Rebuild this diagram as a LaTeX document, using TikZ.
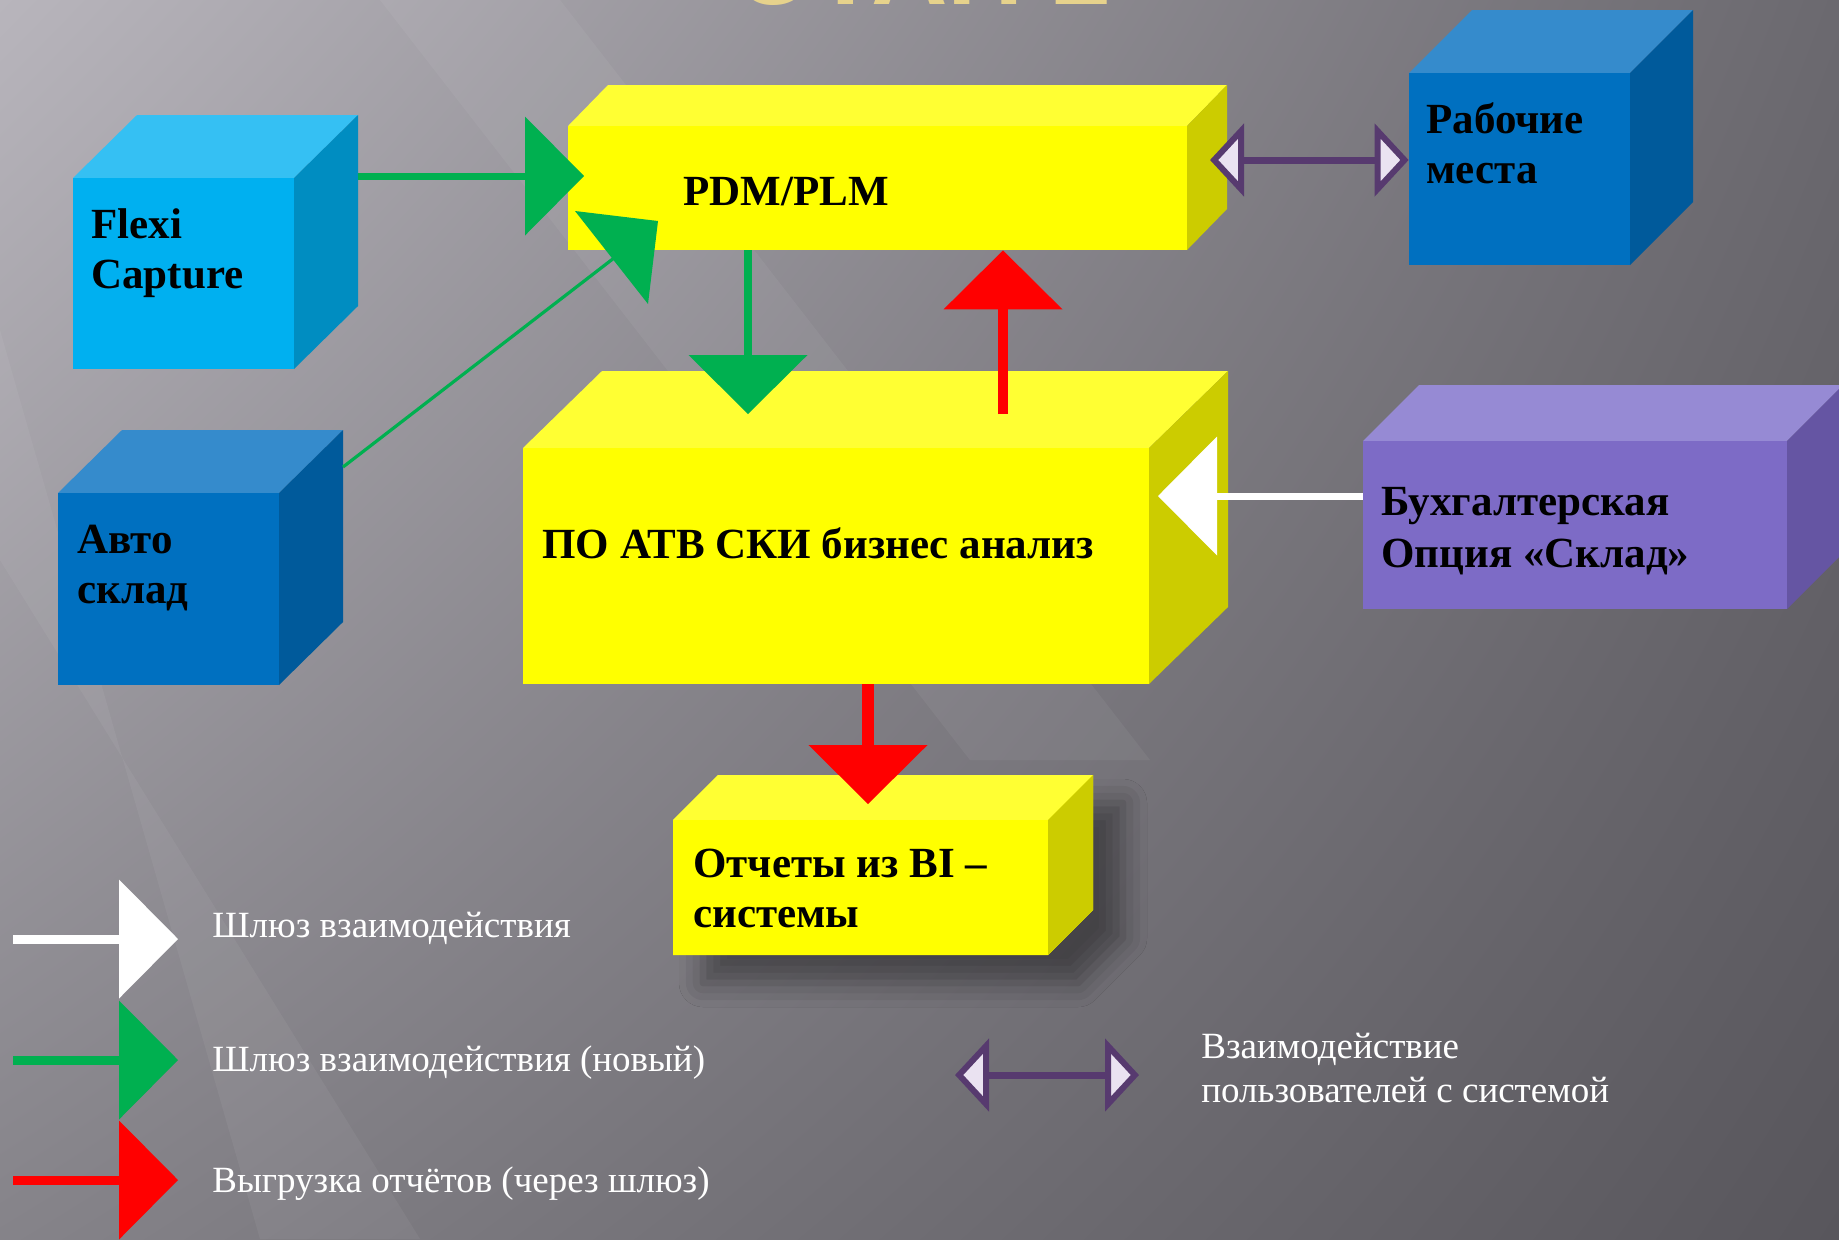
\documentclass[tikz,border=0pt]{standalone}
\usepackage{fontspec}
\setmainfont{Liberation Serif}
\newfontfamily\titlefont{Liberation Sans}
\usetikzlibrary{arrows.meta,shadows.blur,fit,calc,shadings}
\definecolor{cyF}{HTML}{00B0F0}\definecolor{cyT}{HTML}{35C0F3}\definecolor{cyS}{HTML}{008DC1}
\definecolor{blF}{HTML}{0070C0}\definecolor{blT}{HTML}{358BCC}\definecolor{blS}{HTML}{005A9B}
\definecolor{yeF}{HTML}{FFFF00}\definecolor{yeT}{HTML}{FFFF33}\definecolor{yeS}{HTML}{CCCC00}
\definecolor{puF}{HTML}{7D6BC6}\definecolor{puT}{HTML}{968AD4}\definecolor{puS}{HTML}{6555A3}
\definecolor{grA}{HTML}{00B050}\definecolor{rdA}{HTML}{FF0000}
\definecolor{pvD}{HTML}{573A6F}\definecolor{pvL}{HTML}{EAE2F1}
\definecolor{goldT}{HTML}{E6D28C}
\definecolor{bgUL}{HTML}{B8B5BC}\definecolor{bgUR}{HTML}{6B696F}
\definecolor{bgLL}{HTML}{858389}\definecolor{bgLR}{HTML}{58565C}
% #1 name, #2 x1, #3 y1, #4 x2, #5 y2, #6 dx, #7 dy, #8 colour prefix
\newcommand\mycube[8]{%
  \fill[#8T] (#2,#3) -- (#2+#6,#3-#7) -- (#4+#6,#3-#7) -- (#4,#3) -- cycle;
  \fill[#8S] (#4,#3) -- (#4+#6,#3-#7) -- (#4+#6,#5-#7) -- (#4,#5) -- cycle;
  \fill[#8F] (#2,#3) rectangle (#4,#5);
  \node[fit={(#2,#3) (#4,#5)}, inner sep=0pt] (#1) {};
}
\begin{document}
\begin{tikzpicture}[x=0.5pt,y=-0.5pt,
  lbl/.style={anchor=base west, inner sep=0pt, text=black,
    font=\bfseries\fontsize{21.5pt}{25pt}\selectfont},
  leg/.style={anchor=base west, inner sep=0pt, text=white,
    font=\fontsize{18.5pt}{22pt}\selectfont},
  bigtip/.style={-{Triangle[width=59.5pt,length=29.5pt,line width=0pt]}},
  pline/.style={draw=pvD, line width=3.5pt,
    {Triangle[width=36pt,length=17pt,line width=3pt,fill=pvL]}-{Triangle[width=36pt,length=17pt,line width=3pt,fill=pvL]}}
]
\useasboundingbox (0,0) rectangle (1839,1239);
% background
\shade[upper left=bgUL, upper right=bgUR, lower left=bgLL, lower right=bgLR]
  (0,0) rectangle (1839,1239);
\fill[white, opacity=0.05] (380,0) -- (560,0) -- (1150,760) -- (970,760) -- cycle;
\fill[white, opacity=0.05] (0,330) -- (0,560) -- (420,1239) -- (260,1239) -- cycle;
% title (cut off at the top)
\begin{scope}
\clip (0,0) rectangle (1839,1239);
\node[anchor=base, inner sep=0pt, text=goldT,
  font=\titlefont\bfseries\fontsize{53pt}{60pt}\selectfont] (title) at (925,4) {ЭТАП 2};
\end{scope}
% boxes
\mycube{flexi}{73}{178}{294}{369}{64}{63}{cy}
\mycube{pdm}{568}{126}{1187}{250}{40}{41}{ye}
\mycube{rab}{1409}{73}{1630}{265}{63}{63}{bl}
\mycube{po}{523}{448}{1149}{684}{79}{77}{ye}
\mycube{buh}{1363}{441}{1787}{609}{56}{56}{pu}
\mycube{auto}{58}{493}{279}{685}{64}{63}{bl}
\fill[yeF, blur shadow={shadow xshift=15pt, shadow yshift=-14pt, shadow blur radius=12pt, shadow opacity=40}]
  (673,820) -- (718,775) -- (1093,775) -- (1093,910) -- (1048,955) -- (673,955) -- cycle;
\mycube{bi}{673}{820}{1048}{955}{45}{45}{ye}
% labels
\node[lbl] (flexi-a) at (91,238) {Flexi};
\node[lbl] (flexi-b) at (91,288) {Capture};
\node[lbl] (pdm-a) at (683,205) {PDM/PLM};
\node[lbl] (rab-a) at (1426,133) {Рабочие};
\node[lbl] (rab-b) at (1426,183) {места};
\node[lbl] (po-a) at (542,558) {ПО АТВ СКИ бизнес анализ};
\node[lbl] (buh-a) at (1381,515) {Бухгалтерская};
\node[lbl] (buh-b) at (1381,567) {Опция «Склад»};
\node[lbl] (auto-a) at (77,553) {Авто};
\node[lbl] (auto-b) at (77,603) {склад};
\node[lbl] (bi-a) at (693,877) {Отчеты из BI –};
\node[lbl] (bi-b) at (693,927) {системы};
% connectors
\coordinate (fout) at (358,176);
\coordinate (ftip) at (584,176);
\draw[draw=grA, line width=3.5pt, bigtip] (fout) -- (ftip);
\coordinate (aout) at (343,467);
\coordinate (aend) at (614,258);
\draw[draw=grA, line width=1.6pt] (aout) -- (aend);
\fill[grA] (575,211) -- (658,221) -- (648,304) -- cycle;
\coordinate (gdn) at (748,414);
\draw[draw=grA, line width=4pt, bigtip] (pdm.south -| gdn) -- (gdn);
\coordinate (rfrom) at (1003,414);
\draw[draw=rdA, line width=5pt, bigtip] (rfrom) -- (pdm.south -| rfrom);
\coordinate (rdn) at (868,804);
\draw[draw=rdA, line width=6pt, bigtip] (po.south -| rdn) -- (rdn);
\coordinate (wtip) at (1158,496);
\draw[draw=white, line width=3.5pt, bigtip] (buh.west |- wtip) -- (wtip);
\coordinate (ptipL) at (1210,160);
\draw[pline] (ptipL) -- (rab.west |- ptipL);
% legend
\coordinate (l1a) at (13,939);  \coordinate (l1b) at (178,939);
\coordinate (l2a) at (13,1060); \coordinate (l2b) at (178,1060);
\coordinate (l3a) at (13,1180); \coordinate (l3b) at (178,1180);
\draw[draw=white, line width=4.5pt, bigtip] (l1a) -- (l1b);
\draw[draw=grA, line width=4.5pt, bigtip] (l2a) -- (l2b);
\draw[draw=rdA, line width=4.5pt, bigtip] (l3a) -- (l3b);
\node[leg] (leg1) at (212,937) {Шлюз взаимодействия};
\node[leg] (leg2) at (212,1071) {Шлюз взаимодействия (новый)};
\node[leg] (leg3) at (212,1192) {Выгрузка отчётов (через шлюз)};
\coordinate (l4a) at (955,1075); \coordinate (l4b) at (1139,1075);
\draw[pline] (l4a) -- (l4b);
\node[leg] (leg4a) at (1201,1058) {Взаимодействие};
\node[leg] (leg4b) at (1201,1102) {пользователей с системой};
\end{tikzpicture}
\end{document}
